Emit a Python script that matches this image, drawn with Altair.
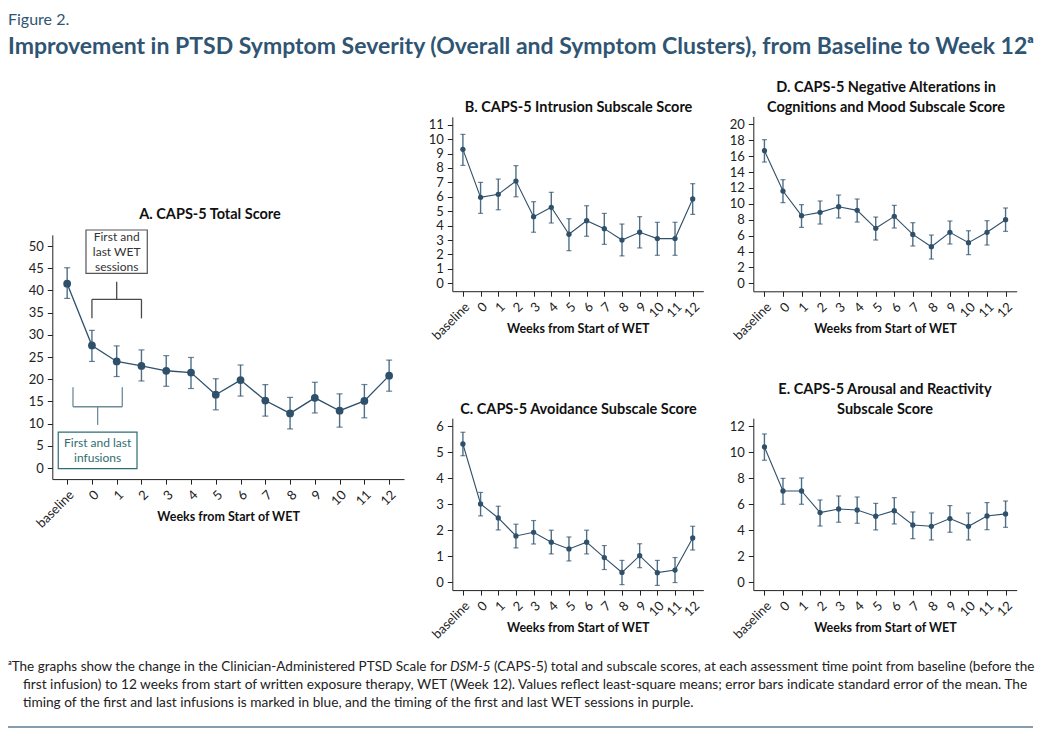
import altair as alt
import pandas as pd

# ---------------- data ----------------
WEEKS = ["baseline", "0", "1", "2", "3", "4", "5", "6", "7", "8", "9", "10", "11", "12"]

A_MEAN = [41.5, 27.6, 24.0, 23.0, 21.9, 21.5, 16.5, 19.8, 15.2, 12.3, 15.8, 12.9, 15.1, 20.8]
A_LO = [38.2, 24.0, 20.6, 19.6, 18.4, 17.9, 13.1, 16.2, 11.7, 8.8, 12.4, 9.2, 11.3, 17.3]
A_HI = [45.1, 31.0, 27.5, 26.6, 25.3, 24.9, 20.1, 23.2, 18.8, 15.9, 19.3, 16.7, 18.8, 24.3]

B_MEAN = [9.29, 5.96, 6.17, 7.09, 4.62, 5.27, 3.40, 4.34, 3.79, 3.00, 3.54, 3.10, 3.10, 5.85]
B_LO = [8.18, 4.85, 5.10, 6.00, 3.54, 4.18, 2.26, 3.26, 2.70, 1.90, 2.45, 1.94, 1.94, 4.78]
B_HI = [10.33, 7.00, 7.23, 8.16, 5.66, 6.31, 4.48, 5.38, 4.85, 4.11, 4.62, 4.23, 4.23, 6.91]

C_MEAN = [5.31, 3.01, 2.47, 1.78, 1.92, 1.54, 1.28, 1.54, 0.95, 0.38, 1.02, 0.37, 0.47, 1.70]
C_LO = [4.86, 2.55, 2.01, 1.32, 1.47, 1.09, 0.82, 1.09, 0.49, -0.09, 0.56, -0.12, -0.01, 1.24]
C_HI = [5.76, 3.45, 2.92, 2.23, 2.37, 2.00, 1.74, 2.00, 1.41, 0.84, 1.48, 0.84, 0.95, 2.15]

D_MEAN = [16.69, 11.61, 8.51, 8.93, 9.64, 9.18, 6.92, 8.43, 6.16, 4.61, 6.42, 5.12, 6.42, 8.01]
D_LO = [15.26, 10.15, 7.04, 7.46, 8.22, 7.71, 5.45, 6.96, 4.70, 3.06, 4.95, 3.61, 4.82, 6.54]
D_HI = [18.07, 13.04, 9.90, 10.36, 11.11, 10.61, 8.34, 9.81, 7.63, 6.08, 7.84, 6.62, 7.88, 9.48]

E_MEAN = [10.39, 7.01, 7.01, 5.35, 5.63, 5.55, 5.07, 5.50, 4.40, 4.30, 4.89, 4.30, 5.09, 5.25]
E_LO = [9.37, 5.99, 5.99, 4.32, 4.61, 4.53, 4.02, 4.48, 3.35, 3.25, 3.84, 3.25, 4.04, 4.22]
E_HI = [11.39, 7.98, 8.01, 6.32, 6.63, 6.55, 6.06, 6.50, 5.40, 5.32, 5.89, 5.32, 6.12, 6.24]

# annotation brackets in panel A (week index, score units)
WET_BRACKET = [(2, 41.96, 2, 38.0), (1, 38.0, 3, 38.0), (1, 38.0, 1, 33.7), (3, 38.0, 3, 33.7)]
WET_BOX = (0.76, 53.6, 3.235, 43.85)
WET_TEXT = ["First and", "last WET", "sessions"]
WET_TEXT_AT = (2.0, 52.0)
INF_BRACKET = [(0.235, 18.2, 0.235, 13.8), (0.235, 13.8, 2.226, 13.8),
               (2.226, 18.2, 2.226, 13.8), (1.23, 13.8, 1.23, 9.7)]
INF_BOX = (-0.36, 8.1, 2.82, -0.16)
INF_TEXT = ["First and last", "infusions"]
INF_TEXT_AT = (1.23, 5.63)

TITLE_FIG = "Figure 2."
TITLE_MAIN = "Improvement in PTSD Symptom Severity (Overall and Symptom Clusters), from Baseline to Week 12\u1d43"
FOOT_1A = "\u1d43The graphs show the change in the Clinician-Administered PTSD Scale for"
FOOT_1B = "DSM-5"
FOOT_1C = "(CAPS-5) total and subscale scores, at each assessment time point from baseline (before the"
FOOT_2 = "first infusion) to 12 weeks from start of written exposure therapy, WET (Week 12). Values reflect least-square means; error bars indicate standard error of the mean. The"
FOOT_3 = "timing of the first and last infusions is marked in blue, and the timing of the first and last WET sessions in purple."

# ---------------- style ----------------
W, H = 1029, 724
NAVY = "#2f506a"
ERR = "#4f6f87"
BLUE_T = "#2f5573"
TEAL = "#2f6d73"
FONT = "Lato"
LABEL_EXPR = "[" + ",".join("'%s'" % w for w in WEEKS) + "][datum.value]"
FOOT_SIZE = 13.7
FOOT_SIZE_1 = 13.5


def frame(mean, lo, hi):
    return pd.DataFrame({"idx": list(range(len(WEEKS))), "week": WEEKS,
                         "mean": mean, "lo": lo, "hi": hi})


def panel(df, xr, yr, ydom, yticks, big=False, extra=()):
    xs = alt.Scale(domain=[-0.6, 13.6], range=xr, nice=False, zero=False)
    ys = alt.Scale(domain=ydom, range=yr, nice=False, zero=False)
    xax = alt.Axis(orient="bottom", offset=yr[0] - H, values=list(range(len(WEEKS))),
                   labelExpr=LABEL_EXPR, labelAngle=315, labelOverlap=False, labelFlush=False,
                   title="Weeks from Start of WET", titleY=31, grid=False)
    yax = alt.Axis(orient="left", offset=-xr[0], values=yticks, title=None, grid=False,
                   labelOverlap=False, labelFlush=False)
    X = alt.X("idx:Q", scale=xs, axis=xax)
    base = alt.Chart(df)
    rule = base.mark_rule(color=ERR, strokeWidth=1.4).encode(
        x=X, y=alt.Y("lo:Q", scale=ys, axis=yax), y2="hi:Q")
    cap = dict(orient="horizontal", size=6 if big else 5, thickness=1.2, color=NAVY)
    lo = base.mark_tick(**cap).encode(x=X, y=alt.Y("lo:Q", scale=ys, axis=yax))
    hi = base.mark_tick(**cap).encode(x=X, y=alt.Y("hi:Q", scale=ys, axis=yax))
    line = base.mark_line(color=NAVY, strokeWidth=1.3 if big else 1.1).encode(
        x=X, y=alt.Y("mean:Q", scale=ys, axis=yax))
    pts = base.mark_circle(color=NAVY, opacity=1, size=60 if big else 28).encode(
        x=X, y=alt.Y("mean:Q", scale=ys, axis=yax))
    layers = [rule, lo, hi, line, pts]
    for make in extra:
        layers.append(make(xs, ys, xax, yax))
    return alt.layer(*layers)


def seg_layer(segs, color, width):
    df = pd.DataFrame(segs, columns=["x", "y", "x2", "y2"])

    def make(xs, ys, xax, yax):
        return alt.Chart(df).mark_rule(color=color, strokeWidth=width).encode(
            x=alt.X("x:Q", scale=xs, axis=xax), x2="x2:Q",
            y=alt.Y("y:Q", scale=ys, axis=yax), y2="y2:Q")
    return make


def box_layer(box, color):
    df = pd.DataFrame([box], columns=["x", "y", "x2", "y2"])

    def make(xs, ys, xax, yax):
        return alt.Chart(df).mark_rect(fill="white", stroke=color, strokeWidth=1.2).encode(
            x=alt.X("x:Q", scale=xs, axis=xax), x2="x2:Q",
            y=alt.Y("y:Q", scale=ys, axis=yax), y2="y2:Q")
    return make


def box_text_layer(lines, at, color):
    df = pd.DataFrame([{"x": at[0], "y": at[1]}])

    def make(xs, ys, xax, yax):
        return alt.Chart(df).mark_text(text=lines, font=FONT, fontSize=12, color=color,
                                       lineHeight=15, align="center", baseline="middle").encode(
            x=alt.X("x:Q", scale=xs, axis=xax), y=alt.Y("y:Q", scale=ys, axis=yax))
    return make


def label(text, x, y, size, weight="normal", color="#111", align="center", style=None, lh=None):
    props = dict(text=text, fontSize=size, fontWeight=weight, color=color, align=align,
                 baseline="middle", font=FONT)
    if style:
        props["fontStyle"] = style
    if lh:
        props["lineHeight"] = lh
    return alt.Chart(pd.DataFrame({"k": [0]})).mark_text(**props).encode(
        x=alt.value(x), y=alt.value(y))


pA = panel(frame(A_MEAN, A_LO, A_HI), [44.3, 396.0], [471.1, 226.9], [-2.5, 52.5],
           list(range(0, 51, 5)), big=True,
           extra=[seg_layer(WET_BRACKET, "#4a4a4a", 1.3), box_layer(WET_BOX, "#555555"),
                  box_text_layer(WET_TEXT, WET_TEXT_AT, "#333333"),
                  seg_layer(INF_BRACKET, "#6d8c98", 1.3), box_layer(INF_BOX, TEAL),
                  box_text_layer(INF_TEXT, INF_TEXT_AT, TEAL)])
pB = panel(frame(B_MEAN, B_LO, B_HI), [444.3, 695.3], [283.2, 108.8], [-0.55, 11.55],
           list(range(0, 12)))
pC = panel(frame(C_MEAN, C_LO, C_HI), [444.3, 695.3], [582.1, 410.2], [-0.3, 6.3],
           list(range(0, 7)))
pD = panel(frame(D_MEAN, D_LO, D_HI), [745.3, 1008.7], [283.3, 108.4], [-1, 21],
           list(range(0, 21, 2)))
pE = panel(frame(E_MEAN, E_LO, E_HI), [745.3, 1008.7], [582.1, 410.2], [-0.6, 12.6],
           list(range(0, 13, 2)))

PT = 14.5
texts = [
    label(TITLE_FIG, 0, 12, 16, color=BLUE_T, align="left"),
    label(TITLE_MAIN, 0, 39, 23, weight="bold", color=BLUE_T, align="left"),
    label("A. CAPS-5 Total Score", 202, 207, PT, weight="bold"),
    label("B. CAPS-5 Intrusion Subscale Score", 570.5, 100, PT, weight="bold"),
    label("C. CAPS-5 Avoidance Subscale Score", 570.5, 402, PT, weight="bold"),
    label(["D. CAPS-5 Negative Alterations in", "Cognitions and Mood Subscale Score"],
          878, 80, PT, weight="bold", lh=20),
    label(["E. CAPS-5 Arousal and Reactivity", "Subscale Score"], 877, 382, PT,
          weight="bold", lh=20),
    label(FOOT_1A, 0, 659, FOOT_SIZE_1, color="#222", align="left"),
    label(FOOT_1B, 442, 659, FOOT_SIZE_1, color="#222", align="left", style="italic"),
    label(FOOT_1C, 486, 659, FOOT_SIZE_1, color="#222", align="left"),
    label(FOOT_2, 15, 677, FOOT_SIZE, color="#222", align="left"),
    label(FOOT_3, 15, 695, FOOT_SIZE, color="#222", align="left"),
    alt.Chart(pd.DataFrame({"k": [0]})).mark_rule(color="#5d7d95", strokeWidth=1.5).encode(
        x=alt.value(0), x2=alt.value(1025), y=alt.value(719)),
]

chart = alt.layer(pA, pB, pC, pD, pE, *texts).resolve_scale(
    x="independent", y="independent").resolve_axis(x="independent", y="independent").properties(
    width=W, height=H, autosize="none", padding=0).configure_view(stroke=None).configure_axis(
    domainColor="#222", tickColor="#222", labelColor="#222", labelFont=FONT, labelFontSize=13,
    tickSize=5, labelPadding=4, domainWidth=1, tickWidth=1,
    titleFont=FONT, titleFontSize=12.5, titleFontWeight="bold", titleColor="#111")

chart.save("out.html", embed_options={"renderer": "svg", "actions": False})
